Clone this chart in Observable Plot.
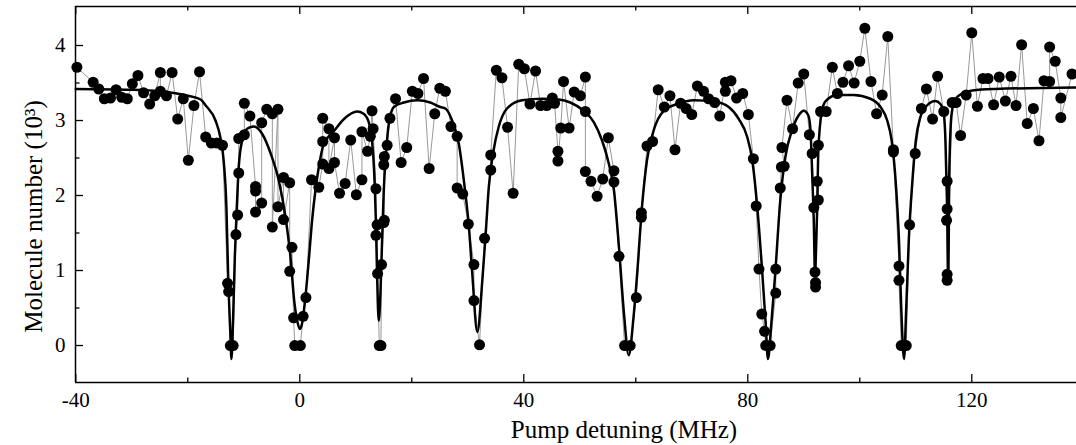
<!DOCTYPE html>
<html><head><meta charset="utf-8">
<script src="https://cdn.jsdelivr.net/npm/d3@7"></script>
<script src="https://cdn.jsdelivr.net/npm/@observablehq/plot@0.6"></script>
<style>body{margin:0;background:#fff} svg{display:block}</style>
</head><body><div id="chart"></div>
<script>
// Measured data (detuning in MHz, molecule number in 10^3)
const detuning = [
-39.8,-36.9,-35.9,-34.9,-33.8,-32.8,-31.8,-30.8,-29.9,-28.9,-27.9,-26.8,-25.9,-24.9,-24.9,-23.8,-22.8,-21.8,-20.8,-19.9,-18.9,-17.9,
-16.8,-15.8,-14.8,-13.8,-12.9,-12.7,-12.4,-11.9,-11.4,-11.1,-10.9,-10.9,-9.9,-9.9,-8.9,-7.9,-7.9,-7.9,-6.8,-6.8,-5.9,-4.9,-4.9,-3.9,-3.9,
-2.9,-2.9,-1.8,-1.8,-1.4,-1.1,-0.9,0.1,0.6,1.1,2.1,3.4,4.1,4.1,4.1,5.2,5.2,6.2,6.2,7.1,8.1,9.1,10.1,11.1,11.1,12.1,12.6,12.9,13.1,
13.6,13.6,13.8,13.9,14.2,14.5,14.6,15.0,15.1,15.0,15.1,15.6,16.1,17.1,18.1,19.1,20.1,21.1,22.1,23.1,24.1,25.0,26.0,27.0,
28.1,28.1,29.1,30.1,31.1,31.1,32.1,33.0,34.1,34.1,35.1,36.1,37.1,38.1,39.1,40.1,41.1,42.1,43.0,44.1,45.1,45.5,46.1,46.1,46.6,47.1,48.1,49.0,
50.1,51.0,51.0,51.0,52.0,53.1,54.1,55.1,56.1,56.1,57.0,58.0,59.0,60.1,61.0,61.0,62.0,63.0,64.0,65.1,66.1,67.0,68.0,69.0,70.0,
71.0,72.1,73.0,74.1,75.0,76.0,76.0,77.0,78.0,79.1,80.1,81.0,81.5,82.0,82.5,83.0,83.2,84.0,85.0,85.0,85.8,86.0,86.5,86.1,87.0,88.0,89.0,90.0,
91.0,91.5,91.8,92.0,92.1,92.1,92.4,92.6,92.6,93.0,94.0,95.1,96.0,97.0,98.0,99.0,100.0,100.9,102.0,103.0,104.0,105.0,106.0,106.0,
107.0,107.0,107.4,108.3,108.9,109.9,111.0,111.9,113.0,113.9,115.0,115.6,115.6,115.5,115.6,115.6,116.5,117.2,118.0,119.0,120.0,
121.0,122.0,122.9,123.9,124.9,126.0,127.0,127.9,128.9,129.9,131.0,132.0,132.9,133.9,133.9,134.9,135.9,135.9,137.9
];
const molecules = [
3.71,3.51,3.42,3.29,3.30,3.41,3.31,3.29,3.49,3.60,3.37,3.22,3.33,3.64,3.39,3.33,3.64,3.02,3.29,2.47,3.20,3.65,
2.78,2.70,2.70,2.67,0.83,0.72,0.00,0.00,1.48,1.74,2.30,2.76,2.81,3.23,3.06,2.12,2.06,1.78,1.90,2.97,3.15,3.09,1.58,3.15,1.85,
2.24,1.68,2.17,0.99,1.31,0.37,0.00,0.00,0.39,0.64,2.21,2.11,2.42,2.72,3.03,2.89,2.36,2.77,2.44,2.03,2.16,2.74,2.01,2.21,2.85,2.59,2.79,3.13,2.89,
2.09,1.47,1.61,0.96,0.00,0.00,1.08,1.64,1.67,2.41,2.52,2.67,3.03,3.29,2.44,2.64,3.39,3.36,3.56,2.36,3.09,3.43,3.39,2.92,
2.79,2.10,2.02,1.62,1.08,0.60,0.01,1.43,2.34,2.54,3.67,3.57,2.91,2.03,3.75,3.69,3.22,3.66,3.20,3.20,3.30,3.23,2.59,2.46,2.90,3.52,2.90,3.38,
3.33,3.58,3.12,2.32,2.19,1.99,2.22,2.77,2.33,2.18,1.19,0.00,0.00,0.64,1.71,1.77,2.66,2.72,3.41,3.18,3.33,2.61,3.23,3.16,3.08,
3.46,3.39,3.29,3.24,3.06,3.51,3.39,3.53,3.30,3.36,3.08,2.49,1.86,1.02,0.42,0.19,0.00,0.00,0.70,1.02,2.10,2.38,2.39,2.64,3.27,2.89,3.50,3.62,
2.81,2.56,1.84,0.98,0.84,0.78,2.19,1.94,2.67,3.12,3.12,3.71,3.36,3.51,3.73,3.50,3.79,4.23,3.52,3.09,3.34,4.12,2.61,2.58,
1.06,0.87,0.00,0.00,1.61,2.56,3.16,3.42,3.02,3.59,3.12,2.19,1.82,1.67,0.95,0.87,3.24,3.24,2.80,3.34,4.17,
3.19,3.56,3.56,3.21,3.58,3.26,3.59,3.20,4.01,2.96,3.16,2.73,3.53,3.52,3.98,3.79,3.30,3.04,3.62
];
// Fit curve
const fitDetuning = [
-40,-30,-25,-20,-17.7,-16.8,-15.05,-14.2,-13.6,-13.1,-12.8,-12.4,-12.2,-11.9,-11.6,-11.25,-10.9,-10.3,-9.4,-8.2,-6.7,-5.2,-3.75,-2.55,-1.66,-1.0,-0.46,0.0,0.4,1.0,1.6,2.2,2.8,3.4,4.3,
6.1,7.9,10.25,11.4,12.3,12.9,13.3,13.6,13.8,14.1,14.4,14.7,15.0,15.4,15.9,16.8,18.6,21.0,23.3,25.1,26.0,27.2,28.4,29.3,30.2,30.8,31.7,32.6,33.2,33.75,34.6,35.5,37.0,39.7,43.3,46.25,
48.3,50.7,52.5,54.0,55.2,56.1,57.0,57.9,58.75,59.6,60.25,61.1,62.0,63.2,65.0,67.4,70.4,74.2,76.6,78.4,79.9,80.8,81.7,82.6,83.2,83.6,84.2,84.9,85.8,86.7,87.9,89.1,90.0,90.8,91.2,91.5,91.8,92.0,92.2,92.4,92.6,93.2,93.9,
96.0,98.9,101.9,103.7,104.9,105.7,106.4,107.0,107.4,107.9,108.3,108.75,109.4,110.0,110.8,112.0,113.5,114.4,115.0,115.3,115.6,115.8,116.0,116.4,117.1,118.3,120.1,124.2,138.7
];
const fitMolecules = [
3.42,3.41,3.39,3.33,3.28,3.20,3.00,2.78,2.47,1.84,0.96,0.16,-0.18,0.38,1.18,1.84,2.38,2.73,2.89,2.92,2.82,2.56,2.20,1.71,1.18,0.60,0.33,0.22,0.29,0.64,1.13,1.67,2.07,2.38,2.69,
2.86,3.02,3.12,3.09,2.98,2.73,2.29,1.62,0.96,0.33,0.69,1.40,2.07,2.56,2.96,3.18,3.24,3.27,3.24,3.18,3.16,3.00,2.69,2.20,1.58,0.96,0.18,0.87,1.49,2.11,2.60,2.91,3.16,3.27,3.29,3.28,
3.24,3.13,2.98,2.73,2.42,2.07,1.31,0.42,-0.13,0.38,0.96,1.84,2.47,2.87,3.13,3.22,3.27,3.25,3.18,3.02,2.78,2.47,1.84,0.96,0.29,-0.18,0.29,0.96,1.93,2.51,2.87,3.07,3.13,3.07,2.87,2.29,1.62,0.95,1.30,1.84,2.60,3.11,3.26,
3.34,3.34,3.29,3.18,3.00,2.73,2.20,1.40,0.51,-0.18,0.51,1.40,2.20,2.73,3.04,3.20,3.26,3.22,3.09,2.73,1.84,0.91,2.38,3.09,3.29,3.36,3.40,3.42,3.44
];
const xTickValues = [-40, 0, 40, 80, 120];
const xMinorTicks = [-20, 20, 60, 100];
const yTickValues = [0, 1, 2, 3, 4];
const yMinorTicks = [0.5, 1.5, 2.5, 3.5];
const xLabel = "Pump detuning (MHz)";
const yLabel = "Molecule number (10³)";

const xDomain = [-40.05, 138.7];
const yDomain = [-0.493, 4.52];
const points = detuning.map((x, i) => ({x, y: molecules[i]}));
const fit = fitDetuning.map((x, i) => ({x, y: fitMolecules[i]}));

// tick lengths expressed in data units via scale factors
const yPerPx = (yDomain[1] - yDomain[0]) / (445 - 6 - 63);
const xPerPx = (xDomain[1] - xDomain[0]) / (1076 - 75);
const tickMaj = 8, tickMin = 4.5;

const chart = Plot.plot({
  width: 1076, height: 445,
  marginLeft: 75, marginRight: 0, marginTop: 6, marginBottom: 63,
  style: {fontFamily: "'Liberation Serif','Times New Roman',serif", background: "white", color: "black", overflow: "visible"},
  x: {domain: xDomain},
  y: {domain: yDomain},
  marks: [
    Plot.axisX({ticks: xTickValues, tickSize: 0, tickPadding: 10, fontSize: 21, label: null, tickFormat: d => String(d)}),
    Plot.axisY({ticks: yTickValues, tickSize: 0, tickPadding: 10, fontSize: 21, label: null, tickFormat: d => String(d)}),
    // frame
    Plot.ruleX([xDomain[0]], {stroke: "black", strokeWidth: 1.5}),
    Plot.ruleY([yDomain[0], yDomain[1]], {stroke: "black", strokeWidth: 1.5}),
    // inward ticks bottom / top
    Plot.ruleX(xTickValues, {x: d => d, y1: yDomain[0], y2: yDomain[0] + tickMaj * yPerPx, stroke: "black", strokeWidth: 1.3}),
    Plot.ruleX(xMinorTicks, {x: d => d, y1: yDomain[0], y2: yDomain[0] + tickMin * yPerPx, stroke: "black", strokeWidth: 1.3}),
    Plot.ruleX(xTickValues, {x: d => d, y1: yDomain[1], y2: yDomain[1] - tickMaj * yPerPx, stroke: "black", strokeWidth: 1.3}),
    Plot.ruleX(xMinorTicks, {x: d => d, y1: yDomain[1], y2: yDomain[1] - tickMin * yPerPx, stroke: "black", strokeWidth: 1.3}),
    // inward ticks left
    Plot.ruleY(yTickValues, {y: d => d, x1: xDomain[0], x2: xDomain[0] + tickMaj * xPerPx, stroke: "black", strokeWidth: 1.3}),
    Plot.ruleY(yMinorTicks, {y: d => d, x1: xDomain[0], x2: xDomain[0] + tickMin * xPerPx, stroke: "black", strokeWidth: 1.3}),
    // data
    Plot.line(points, {x: "x", y: "y", stroke: "#999999", strokeWidth: 1}),
    Plot.line(fit, {x: "x", y: "y", curve: "monotone-x", stroke: "black", strokeWidth: 2.5}),
    Plot.dot(points, {x: "x", y: "y", r: 5.5, fill: "black", stroke: "none"}),
    // titles
    Plot.text([xLabel], {text: d => d, frameAnchor: "bottom", textAnchor: "middle", dx: 48, dy: 47.5, fontSize: 25, lineAnchor: "middle", fill: "black"}),
    Plot.text([yLabel], {text: d => d, frameAnchor: "left", textAnchor: "middle", rotate: -90, dx: -42, dy: 22, fontSize: 25, lineAnchor: "middle", fill: "black"})
  ]
});
document.getElementById("chart").appendChild(chart);
</script>
</body></html>
